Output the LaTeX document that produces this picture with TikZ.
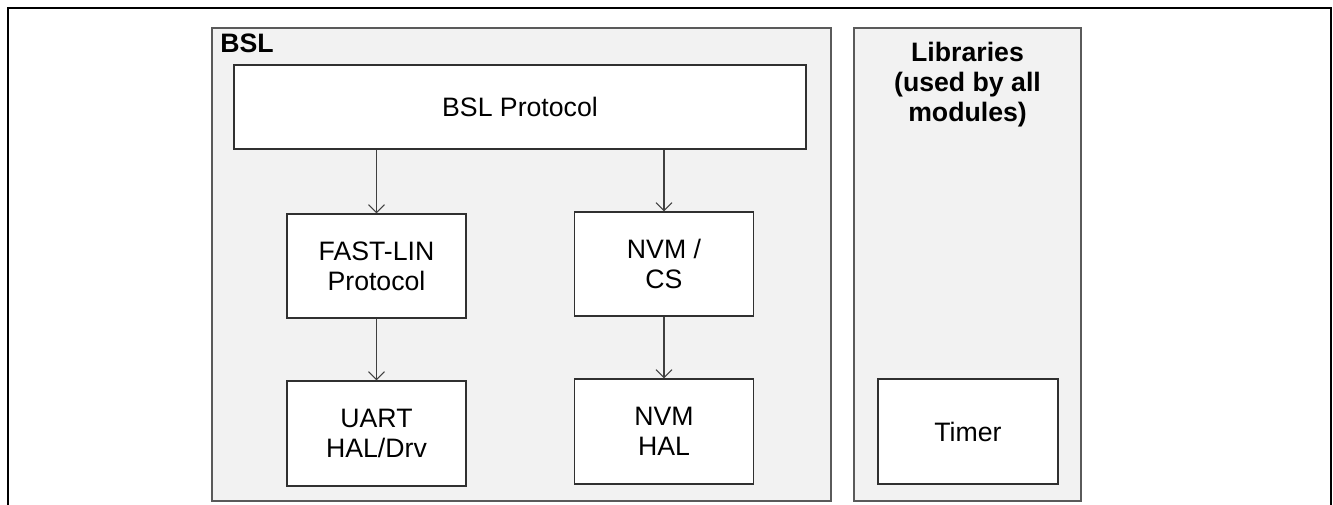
\documentclass[tikz,border=0pt]{standalone}
\usepackage{fontspec}
\setmainfont{Liberation Sans}
\usetikzlibrary{arrows.meta}
\definecolor{panelfill}{HTML}{F2F2F2}
\definecolor{panelline}{HTML}{5A5A5A}
\definecolor{boxline}{HTML}{303030}
\definecolor{arrowline}{HTML}{404040}
\begin{document}
\begin{tikzpicture}[x=0.75pt,y=-0.75pt,
  panel/.style={draw=panelline,fill=panelfill,line width=1pt,inner sep=0pt,minimum height=354.75pt},
  block/.style={draw=boxline,fill=white,line width=0.9pt,inner sep=0pt,align=center,
    font=\fontsize{20}{22.5}\selectfont},
  heading/.style={inner sep=0pt,font=\fontsize{20}{22.5}\selectfont\bfseries},
  link/.style={draw=arrowline,line width=0.8pt,-{Straight Barb[length=6pt,width=12pt,line width=0.8pt]}}]
\useasboundingbox (0,0) rectangle (1333,505);
% open outer frame
\draw[line width=1.4pt] (8,505) -- (8,8) -- (1331,8) -- (1331,505);
% panels
\node[panel,minimum width=464.25pt] (bsl) at (521.5,264.5) {};
\node[panel,minimum width=170.25pt] (lib) at (967.5,264.5) {};
\node[heading,anchor=base west] (bsltitle) at (220,53) {BSL};
\node[heading,anchor=north,align=center] (libtitle) at (967.5,41.5) {Libraries\\(used by all\\modules)};
% blocks
\node[block,minimum width=429pt,minimum height=63pt] (proto) at (520,107) {BSL Protocol};
\node[block,minimum width=134.25pt,minimum height=78pt] (fast) at (376.5,266) {FAST-LIN\\Protocol};
\node[block,minimum width=134.25pt,minimum height=78.75pt] (uart) at (376.5,433.5) {UART\\HAL/Drv};
\node[block,minimum width=134.25pt,minimum height=78pt] (nvmcs) at (664,264) {NVM /\\CS};
\node[block,minimum width=134.25pt,minimum height=78.75pt] (nvmhal) at (664,431.5) {NVM\\HAL};
\node[block,minimum width=135pt,minimum height=78.75pt] (timer) at (968,431.5) {Timer};
% dependencies
\draw[link] (proto.south -| fast.north) -- (fast.north);
\draw[link] (proto.south -| nvmcs.north) -- (nvmcs.north);
\draw[link] (fast.south) -- (uart.north);
\draw[link] (nvmcs.south) -- (nvmhal.north);
\end{tikzpicture}
\end{document}
